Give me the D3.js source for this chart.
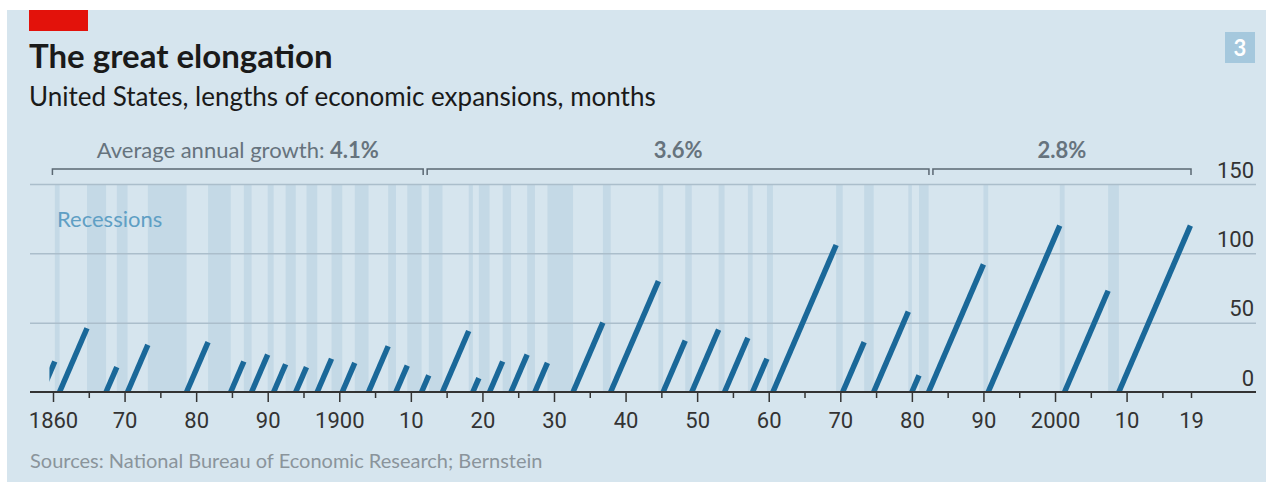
<!DOCTYPE html>
<html>
<head>
<meta charset="utf-8">
<script src="https://cdn.jsdelivr.net/npm/d3@7"></script>
<style>
  body { margin: 0; background: #fff; }
  svg { display: block; }
</style>
</head>
<body>
<svg id="chart" width="1266" height="487"></svg>
<script>
// Expansions: trough (start) to peak (end), length in months
const expansionStart = ["1858-12", "1861-06", "1867-12", "1870-12", "1879-03", "1885-05", "1888-04", "1891-05", "1894-06", "1897-06", "1900-12", "1904-08", "1908-06", "1912-01", "1914-12", "1919-03", "1921-07", "1924-07", "1927-11", "1933-03", "1938-06", "1945-10", "1949-10", "1954-05", "1958-04", "1961-02", "1970-11", "1975-03", "1980-07", "1982-11", "1991-03", "2001-11", "2009-06"];
const expansionEnd = ["1860-10", "1865-04", "1869-06", "1873-10", "1882-03", "1887-03", "1890-07", "1893-01", "1895-12", "1899-06", "1902-09", "1907-05", "1910-01", "1913-01", "1918-08", "1920-01", "1923-05", "1926-10", "1929-08", "1937-05", "1945-02", "1948-11", "1953-07", "1957-08", "1960-04", "1969-12", "1973-11", "1980-01", "1981-07", "1990-07", "2001-03", "2007-12", "2019-06"];
const expansionMonths = [22, 46, 18, 34, 36, 22, 27, 20, 18, 24, 21, 33, 19, 12, 44, 10, 22, 27, 21, 50, 80, 37, 45, 39, 24, 106, 36, 58, 12, 92, 120, 73, 120];

// Recessions: peak to trough
const recessionStart = ["1860-10", "1865-04", "1869-06", "1873-10", "1882-03", "1887-03", "1890-07", "1893-01", "1895-12", "1899-06", "1902-09", "1907-05", "1910-01", "1913-01", "1918-08", "1920-01", "1923-05", "1926-10", "1929-08", "1937-05", "1945-02", "1948-11", "1953-07", "1957-08", "1960-04", "1969-12", "1973-11", "1980-01", "1981-07", "1990-07", "2001-03", "2007-12"];
const recessionEnd = ["1861-06", "1867-12", "1870-12", "1879-03", "1885-05", "1888-04", "1891-05", "1894-06", "1897-06", "1900-12", "1904-08", "1908-06", "1912-01", "1914-12", "1919-03", "1921-07", "1924-07", "1927-11", "1933-03", "1938-06", "1945-10", "1949-10", "1954-05", "1958-04", "1961-02", "1970-11", "1975-03", "1980-07", "1982-11", "1991-03", "2001-11", "2009-06"];

// Growth periods
const periodBounds = ["1860-06", "1912-07", "1983-03", "2019-07"];
const periodPrefix = ["Average annual growth: ", "", ""];
const periodGrowth = ["4.1%", "3.6%", "2.8%"];

// Axes
const yTicks = [0, 50, 100, 150];
const xMajorYears = [1860, 1870, 1880, 1890, 1900, 1910, 1920, 1930, 1940, 1950, 1960, 1970, 1980, 1990, 2000, 2010, 2019];
const xMajorLabels = ["1860", "70", "80", "90", "1900", "10", "20", "30", "40", "50", "60", "70", "80", "90", "2000", "10", "19"];
const xMinorYears = [1865, 1875, 1885, 1895, 1905, 1915, 1925, 1935, 1945, 1955, 1965, 1975, 1985, 1995, 2005, 2015];

const parse = d3.timeParse("%Y-%m");
const tickDate = (y) => new Date(y, 6, 1); // year ticks sit mid-year

const svg = d3.select("#chart");
const W = 1266, H = 487;
const font = "Lato, sans-serif";
const numFont = "Roboto, sans-serif";

// Panel
svg.append("rect").attr("x", 7).attr("y", 10).attr("width", W - 7).attr("height", 472).attr("fill", "#d6e5ee");
svg.append("rect").attr("x", 29).attr("y", 10).attr("width", 59).attr("height", 21).attr("fill", "#e3120b");

// Chart number box
svg.append("rect").attr("x", 1225).attr("y", 32).attr("width", 30).attr("height", 31).attr("fill", "#a5c8dd");
svg.append("text").attr("x", 1240).attr("y", 56).attr("text-anchor", "middle")
  .attr("font-family", font).attr("font-weight", 700).attr("font-size", 22)
  .attr("fill", "#fff").text("3");

// Titles
svg.append("text").attr("x", 29).attr("y", 68)
  .attr("font-family", font).attr("font-weight", 700).attr("font-size", 33)
  .attr("fill", "#1a1a1a").text("The great elongation");
svg.append("text").attr("x", 29).attr("y", 106)
  .attr("font-family", font).attr("font-size", 26)
  .attr("fill", "#1a1a1a").text("United States, lengths of economic expansions, months");

// Scales
const xScale = d3.scaleTime().domain([tickDate(1860), tickDate(2019)]).range([53, 1191]);
const yScale = d3.scaleLinear().domain([0, 150]).range([392, 184]);

// Clip so the chart starts in 1860
svg.append("clipPath").attr("id", "plot-clip")
  .append("rect").attr("x", xScale(parse("1860-01"))).attr("y", 0).attr("width", W).attr("height", H);

// Recession bands
svg.append("g")
  .attr("clip-path", "url(#plot-clip)")
  .selectAll("rect")
  .data(recessionStart.map((d, i) => [parse(d), parse(recessionEnd[i])]))
  .join("rect")
  .attr("x", (d) => xScale(d[0]))
  .attr("width", (d) => xScale(d[1]) - xScale(d[0]))
  .attr("y", yScale(150))
  .attr("height", yScale(0) - yScale(150))
  .attr("fill", "#c4d9e6");

svg.append("text").attr("x", 57).attr("y", 227)
  .attr("font-family", font).attr("font-size", 22)
  .attr("fill", "#5f9fc4").text("Recessions");

// Y gridlines and labels (right side)
const yAxis = svg.append("g")
  .attr("transform", `translate(1256,0)`)
  .call(d3.axisLeft(yScale).tickValues(yTicks).tickSize(1226).tickFormat(d3.format("d")));
yAxis.select(".domain").remove();
yAxis.selectAll(".tick line")
  .attr("stroke", (d) => (d === 0 ? "none" : "#abbecb"))
  .attr("stroke-width", 1.5);
yAxis.selectAll(".tick text")
  .attr("x", -2).attr("dy", -7).attr("text-anchor", "end")
  .attr("font-family", numFont)
  .attr("font-size", 22).attr("fill", "#333");

// Expansion lines
svg.append("g")
  .attr("clip-path", "url(#plot-clip)")
  .attr("stroke", "#1a6899")
  .attr("stroke-width", 5.5)
  .selectAll("line")
  .data(expansionStart.map((d, i) => ({ start: parse(d), end: parse(expansionEnd[i]), months: expansionMonths[i] })))
  .join("line")
  .attr("x1", (d) => xScale(d.start))
  .attr("y1", yScale(0))
  .attr("x2", (d) => xScale(d.end))
  .attr("y2", (d) => yScale(d.months));

// Zero line on top
svg.append("line")
  .attr("x1", 30).attr("x2", 1256)
  .attr("y1", yScale(0)).attr("y2", yScale(0))
  .attr("stroke", "#333").attr("stroke-width", 2);

// X axis: major ticks with labels, minor ticks without
const xAxisMajor = svg.append("g")
  .attr("transform", `translate(0,${yScale(0)})`)
  .call(d3.axisBottom(xScale)
    .tickValues(xMajorYears.map(tickDate))
    .tickSize(10)
    .tickPadding(10)
    .tickFormat((d, i) => xMajorLabels[i]));
xAxisMajor.select(".domain").remove();
xAxisMajor.selectAll(".tick line").attr("stroke", "#333").attr("stroke-width", 1.5)
  .attr("y2", (d) => (d.getFullYear() === 2019 ? 6 : 10));
xAxisMajor.selectAll(".tick text")
  .attr("font-family", numFont)
  .attr("font-size", 22).attr("fill", "#333");

const xAxisMinor = svg.append("g")
  .attr("transform", `translate(0,${yScale(0)})`)
  .call(d3.axisBottom(xScale).tickValues(xMinorYears.map(tickDate)).tickSize(6).tickFormat(""));
xAxisMinor.select(".domain").remove();
xAxisMinor.selectAll(".tick line").attr("stroke", "#333").attr("stroke-width", 1.5);

// Growth period brackets
const bracketY = 169;
const gap = 2;
const periods = periodGrowth.map((g, i) => {
  const x0 = xScale(parse(periodBounds[i])) + (i === 0 ? 0 : gap);
  const x1 = xScale(parse(periodBounds[i + 1])) - (i === periodGrowth.length - 1 ? 0 : gap);
  return { x0, x1, prefix: periodPrefix[i], growth: g };
});
const bracket = svg.append("g").selectAll("g").data(periods).join("g");
bracket.append("path")
  .attr("d", (d) => `M${d.x0},${bracketY + 6}V${bracketY}H${d.x1}V${bracketY + 6}`)
  .attr("fill", "none").attr("stroke", "#5b6873").attr("stroke-width", 1.5);
const label = bracket.append("text")
  .attr("x", (d) => (d.x0 + d.x1) / 2)
  .attr("y", 158)
  .attr("text-anchor", "middle")
  .attr("font-family", font).attr("font-size", 22)
  .attr("fill", "#66737d");
label.append("tspan").text((d) => d.prefix);
label.append("tspan").attr("font-weight", 700).text((d) => d.growth);

// Source
svg.append("text").attr("x", 30).attr("y", 468)
  .attr("font-family", font).attr("font-size", 20)
  .attr("fill", "#8a949b").text("Sources: National Bureau of Economic Research; Bernstein");
</script>
</body>
</html>
